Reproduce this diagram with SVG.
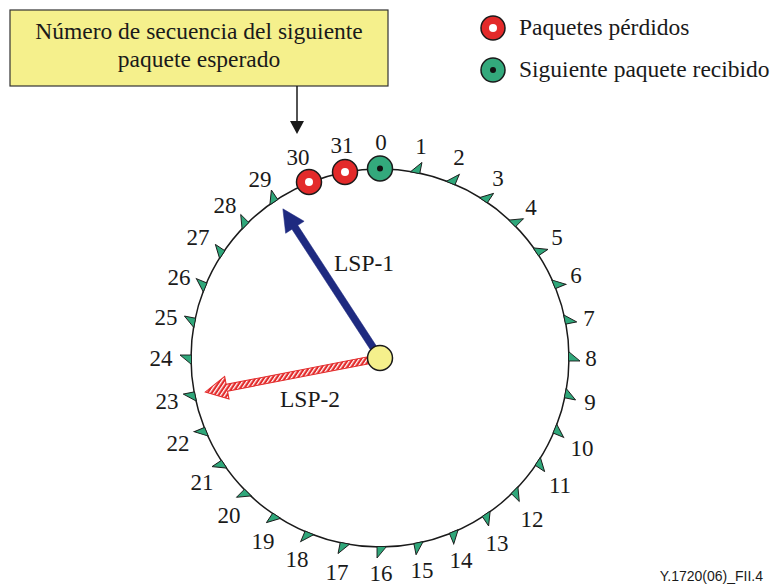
<svg xmlns="http://www.w3.org/2000/svg" width="777" height="585" viewBox="0 0 777 585">
<defs>
<style>
text{font-family:"Liberation Serif","Times New Roman",Times,serif;fill:#1a1a1a}
.t{font-size:23.5px}
.n{font-size:23.5px;text-anchor:middle}
.d{font-size:23px;text-anchor:middle}
.tick{fill:#2fa77a;stroke:#1a1a1a;stroke-width:0.9;stroke-linejoin:miter}
.red{fill:#e32a2a;stroke:#1a1a1a;stroke-width:1.5}
.grn{fill:#33a97c;stroke:#1a1a1a;stroke-width:1.5}
</style>
<polygon id="tk" class="tick" points="-6.5,-188.5 3,-188.5 3,-200"/>
<pattern id="hatch" width="3.5" height="3.5" patternUnits="userSpaceOnUse" patternTransform="rotate(45)">
<rect width="3.5" height="3.5" fill="#ffffff"/>
<rect width="2.2" height="3.5" fill="#e32a2a"/>
</pattern>
</defs>
<rect width="777" height="585" fill="#ffffff"/>

<g id="title-box">
<rect x="10" y="10" width="378" height="76" fill="#f5f08c" stroke="#333" stroke-width="1.2"/>
<text class="n" x="199" y="39">Número de secuencia del siguiente</text>
<text class="n" x="199" y="67">paquete esperado</text>
</g>

<g id="legend">
<circle class="red" cx="493" cy="28" r="12"/>
<circle cx="493" cy="28" r="4" fill="#fff"/>
<text class="t" x="519" y="35">Paquetes pérdidos</text>
<circle class="grn" cx="493" cy="70" r="12"/>
<circle cx="493" cy="70" r="3" fill="#111"/>
<text class="t" x="519" y="77">Siguiente paquete recibido</text>
</g>

<g id="dial">
<circle cx="380" cy="358" r="189" fill="none" stroke="#1a1a1a" stroke-width="1.5"/>
<use href="#tk" transform="translate(380,358) rotate(11.25)"/>
<use href="#tk" transform="translate(380,358) rotate(22.5)"/>
<use href="#tk" transform="translate(380,358) rotate(33.75)"/>
<use href="#tk" transform="translate(380,358) rotate(45)"/>
<use href="#tk" transform="translate(380,358) rotate(56.25)"/>
<use href="#tk" transform="translate(380,358) rotate(67.5)"/>
<use href="#tk" transform="translate(380,358) rotate(78.75)"/>
<use href="#tk" transform="translate(380,358) rotate(90)"/>
<use href="#tk" transform="translate(380,358) rotate(101.25)"/>
<use href="#tk" transform="translate(380,358) rotate(112.5)"/>
<use href="#tk" transform="translate(380,358) rotate(123.75)"/>
<use href="#tk" transform="translate(380,358) rotate(135)"/>
<use href="#tk" transform="translate(380,358) rotate(146.25)"/>
<use href="#tk" transform="translate(380,358) rotate(157.5)"/>
<use href="#tk" transform="translate(380,358) rotate(168.75)"/>
<use href="#tk" transform="translate(380,358) rotate(180)"/>
<use href="#tk" transform="translate(380,358) rotate(191.25)"/>
<use href="#tk" transform="translate(380,358) rotate(202.5)"/>
<use href="#tk" transform="translate(380,358) rotate(213.75)"/>
<use href="#tk" transform="translate(380,358) rotate(225)"/>
<use href="#tk" transform="translate(380,358) rotate(236.25)"/>
<use href="#tk" transform="translate(380,358) rotate(247.5)"/>
<use href="#tk" transform="translate(380,358) rotate(258.75)"/>
<use href="#tk" transform="translate(380,358) rotate(270)"/>
<use href="#tk" transform="translate(380,358) rotate(281.25)"/>
<use href="#tk" transform="translate(380,358) rotate(292.5)"/>
<use href="#tk" transform="translate(380,358) rotate(303.75)"/>
<use href="#tk" transform="translate(380,358) rotate(315)"/>
<use href="#tk" transform="translate(380,358) rotate(326.25)"/>
</g>

<g id="labels">
<text class="d" x="381" y="150">0</text>
<text class="d" x="421" y="154">1</text>
<text class="d" x="459" y="165">2</text>
<text class="d" x="498" y="186">3</text>
<text class="d" x="531" y="215">4</text>
<text class="d" x="557" y="245">5</text>
<text class="d" x="576" y="283">6</text>
<text class="d" x="589" y="326">7</text>
<text class="d" x="591" y="366">8</text>
<text class="d" x="590" y="410">9</text>
<text class="d" x="582" y="456">10</text>
<text class="d" x="560" y="493">11</text>
<text class="d" x="532" y="527">12</text>
<text class="d" x="497" y="551">13</text>
<text class="d" x="461" y="568">14</text>
<text class="d" x="422" y="578">15</text>
<text class="d" x="381" y="581">16</text>
<text class="d" x="337" y="580">17</text>
<text class="d" x="297" y="567">18</text>
<text class="d" x="263" y="549">19</text>
<text class="d" x="229" y="523">20</text>
<text class="d" x="202" y="490">21</text>
<text class="d" x="178" y="451">22</text>
<text class="d" x="167" y="409">23</text>
<text class="d" x="161" y="366">24</text>
<text class="d" x="166" y="325">25</text>
<text class="d" x="179" y="285">26</text>
<text class="d" x="198" y="245">27</text>
<text class="d" x="225" y="213">28</text>
<text class="d" x="260" y="187">29</text>
<text class="d" x="298" y="165">30</text>
<text class="d" x="342" y="153">31</text>
</g>

<g id="connectors">
<line x1="297" y1="86" x2="297" y2="122" stroke="#1a1a1a" stroke-width="1.5"/>
<polygon points="290,121 304,121 297,134" fill="#1a1a1a"/>
<polygon transform="translate(380,358) rotate(-123.07)" fill="#1e2a80" stroke="#1e2a80" stroke-width="0.5" points="0,-3.5 156,-3.5 156,-11 178,0 156,11 156,3.5 0,3.5"/>
<polygon transform="translate(380,358) rotate(169)" fill="url(#hatch)" stroke="#e32a2a" stroke-width="1" points="0,-3.5 156,-3.5 156,-11.5 178,0 156,11.5 156,3.5 0,3.5"/>
</g>

<g id="packets">
<circle class="red" cx="309" cy="182" r="12.5"/>
<circle cx="309" cy="182" r="4" fill="#fff"/>
<circle class="red" cx="345" cy="172" r="12.5"/>
<circle cx="345" cy="172" r="4" fill="#fff"/>
<circle class="grn" cx="380" cy="168.5" r="12.5"/>
<circle cx="380" cy="168.5" r="3" fill="#111"/>
</g>

<g id="hub">
<circle cx="380" cy="358" r="12.5" fill="#f5f08c" stroke="#1a1a1a" stroke-width="1.5"/>
</g>

<g id="arrow-labels">
<text class="n" x="364" y="271">LSP-1</text>
<text class="n" x="310" y="407">LSP-2</text>
</g>

<text x="763" y="581" text-anchor="end" style="font-family:'Liberation Sans',Arial,sans-serif;font-size:14px">Y.1720(06)_FII.4</text>
</svg>
